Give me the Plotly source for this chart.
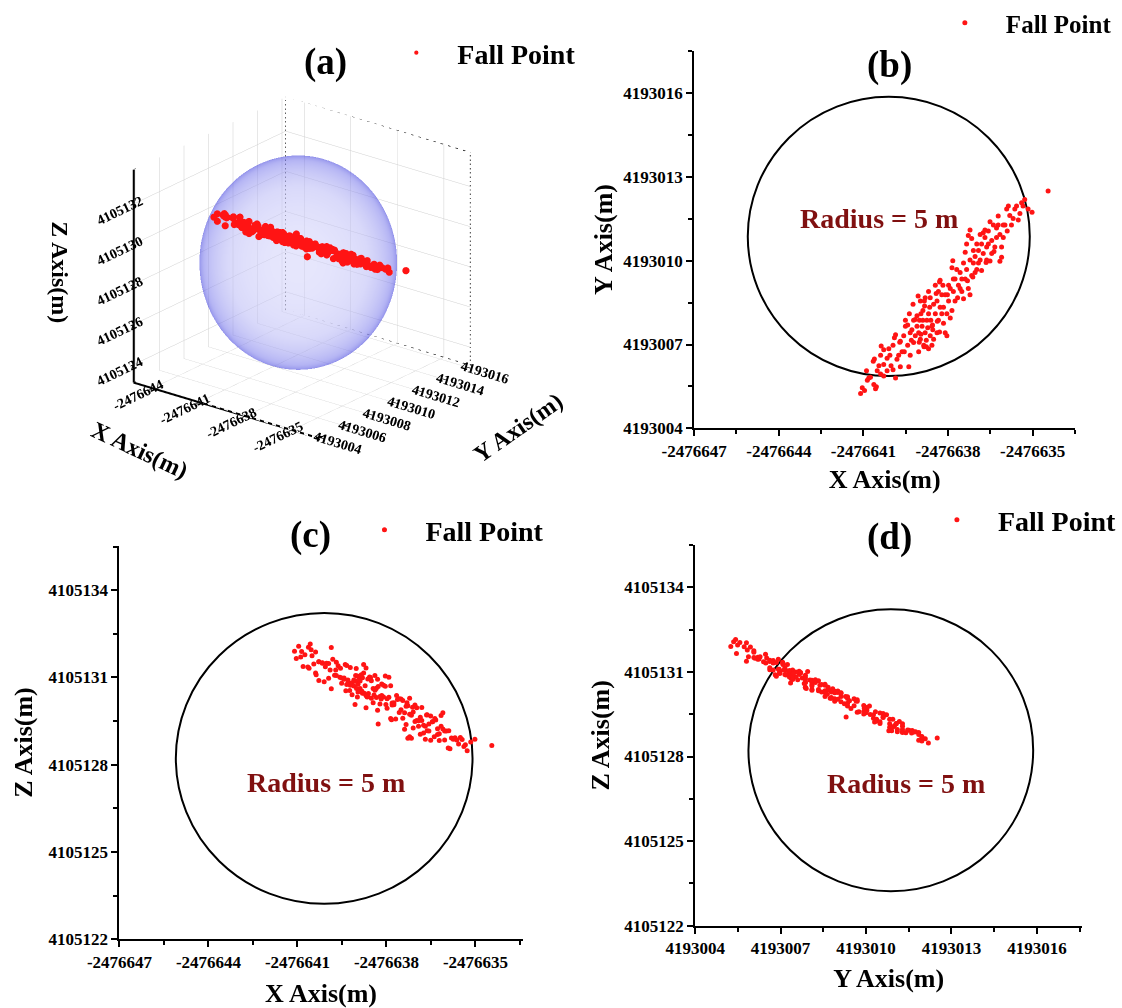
import numpy as np
import plotly.graph_objects as go

# ---------------- data ----------------
fall_x = [
    -2476641.10, -2476641.04, -2476640.96, -2476640.57, -2476640.54, -2476640.63, -2476640.81, -2476640.51, -2476640.45, -2476640.39,
    -2476640.28, -2476640.61, -2476640.28, -2476640.16, -2476640.02, -2476639.86, -2476639.95, -2476640.06, -2476639.95, -2476639.90,
    -2476639.69, -2476639.63, -2476639.75, -2476639.57, -2476639.51, -2476639.39, -2476639.34, -2476639.43, -2476639.22, -2476639.28,
    -2476639.51, -2476639.16, -2476640.75, -2476640.16, -2476639.81, -2476639.04, -2476638.98, -2476638.92, -2476638.86, -2476638.81,
    -2476638.75, -2476638.69, -2476638.63, -2476638.57, -2476638.51, -2476638.45, -2476639.16, -2476639.10, -2476639.01, -2476638.89,
    -2476638.84, -2476638.69, -2476638.63, -2476638.51, -2476638.39, -2476638.34, -2476638.28, -2476638.22, -2476638.16, -2476638.10,
    -2476638.04, -2476637.98, -2476637.92, -2476638.30, -2476638.45, -2476638.69, -2476638.81, -2476638.98, -2476639.10, -2476638.96,
    -2476638.77, -2476638.61, -2476638.54, -2476639.04, -2476638.89, -2476638.72, -2476639.22, -2476639.34, -2476638.39, -2476638.16,
    -2476638.34, -2476638.57, -2476638.04, -2476637.86, -2476637.81, -2476637.75, -2476637.69, -2476637.63, -2476637.57, -2476637.51,
    -2476637.39, -2476637.34, -2476637.28, -2476637.22, -2476637.16, -2476637.10, -2476637.04, -2476636.98, -2476636.92, -2476636.86,
    -2476636.81, -2476636.75, -2476636.69, -2476636.63, -2476636.57, -2476636.51, -2476636.45, -2476636.39, -2476636.34, -2476636.28,
    -2476636.22, -2476636.16, -2476636.10, -2476636.04, -2476635.98, -2476638.28, -2476637.86, -2476637.83, -2476637.39, -2476637.34,
    -2476637.28, -2476637.22, -2476637.16, -2476636.75, -2476636.69, -2476636.28, -2476635.92, -2476635.69, -2476635.63, -2476635.51,
    -2476635.39, -2476635.28, -2476635.16, -2476635.02, -2476635.86, -2476635.57, -2476636.22, -2476636.51, -2476634.45, -2476637.81,
    -2476637.98, -2476638.10, -2476637.75, -2476637.57, -2476637.45, -2476637.04, -2476636.92, -2476636.63, -2476636.45, -2476636.98,
    -2476636.86, -2476636.57, -2476636.16, -2476636.04, -2476635.81, -2476637.10, -2476637.22, -2476637.51, -2476637.92, -2476638.22,
    -2476639.69, -2476639.86, -2476640.28, -2476640.86, -2476640.39, -2476639.02, -2476638.85, -2476638.55, -2476638.38, -2476638.83,
    -2476639.06, -2476639.24, -2476639.37, -2476639.43, -2476639.30, -2476639.55, -2476639.71, -2476640.10, -2476640.37, -2476640.65,
    -2476640.89, -2476638.30, -2476638.18, -2476638.02, -2476637.66, -2476637.45, -2476637.31, -2476637.12, -2476636.81, -2476636.65,
    -2476636.37, -2476636.10, -2476635.90, -2476635.75, -2476635.45, -2476635.34, -2476638.65, -2476638.42, -2476638.96, -2476638.77,
]
fall_y = [
    4193005.25, 4193005.45, 4193005.35, 4193005.42, 4193005.49, 4193005.57, 4193005.80, 4193006.06, 4193006.24, 4193005.94,
    4193005.87, 4193006.48, 4193006.81, 4193006.51, 4193006.24, 4193005.80, 4193006.10, 4193006.62, 4193006.97, 4193007.24,
    4193006.20, 4193006.74, 4193006.62, 4193007.31, 4193007.65, 4193006.20, 4193006.62, 4193006.97, 4193007.07, 4193007.53,
    4193007.87, 4193007.31, 4193005.83, 4193006.06, 4193006.47, 4193006.74, 4193007.19, 4193007.65, 4193006.97, 4193007.42,
    4193007.87, 4193006.85, 4193007.31, 4193007.65, 4193007.19, 4193008.10, 4193007.90, 4193008.03, 4193007.87, 4193008.22,
    4193008.56, 4193008.10, 4193008.67, 4193008.44, 4193007.42, 4193007.87, 4193008.33, 4193008.78, 4193007.76, 4193007.42,
    4193008.10, 4193008.56, 4193009.01, 4193009.24, 4193009.12, 4193008.90, 4193008.67, 4193008.56, 4193007.65, 4193007.37,
    4193007.15, 4193007.87, 4193007.53, 4193007.42, 4193007.87, 4193007.60, 4193007.87, 4193007.42, 4193008.56, 4193008.33,
    4193008.90, 4193006.97, 4193007.31, 4193008.22, 4193008.90, 4193009.35, 4193009.69, 4193009.12, 4193009.58, 4193008.90,
    4193009.35, 4193009.69, 4193009.01, 4193008.78, 4193009.47, 4193009.92, 4193010.15, 4193009.69, 4193010.37, 4193010.03,
    4193010.60, 4193010.26, 4193010.83, 4193010.49, 4193011.06, 4193009.99, 4193010.72, 4193011.28, 4193010.49, 4193010.83,
    4193011.28, 4193009.98, 4193010.12, 4193010.83, 4193011.28, 4193009.30, 4193009.75, 4193010.00, 4193010.30, 4193010.60,
    4193010.90, 4193011.10, 4193010.80, 4193011.00, 4193011.10, 4193011.17, 4193011.85, 4193011.51, 4193011.85, 4193011.46,
    4193012.08, 4193012.19, 4193011.85, 4193011.74, 4193011.96, 4193011.96, 4193011.60, 4193011.40, 4193012.50, 4193009.35,
    4193009.12, 4193008.78, 4193008.56, 4193009.01, 4193009.92, 4193009.58, 4193009.92, 4193010.03, 4193010.26, 4193010.60,
    4193010.94, 4193010.60, 4193010.94, 4193011.28, 4193011.62, 4193010.37, 4193010.03, 4193009.35, 4193007.95, 4193008.10,
    4193007.12, 4193007.35, 4193006.28, 4193005.72, 4193006.62, 4193007.08, 4193006.92, 4193007.70, 4193007.83, 4193008.38,
    4193008.74, 4193008.44, 4193008.10, 4193007.70, 4193007.15, 4193006.74, 4193007.08, 4193006.85, 4193006.95, 4193006.40,
    4193006.06, 4193007.45, 4193009.12, 4193008.78, 4193008.67, 4193008.64, 4193009.28, 4193009.42, 4193009.65, 4193009.94,
    4193010.33, 4193010.49, 4193011.06, 4193011.28, 4193011.69, 4193011.96, 4193008.33, 4193008.83, 4193008.10, 4193006.92,
]
fall_z = [
    4105131.90, 4105131.65, 4105132.07, 4105132.15, 4105131.95, 4105132.04, 4105131.38, 4105131.75, 4105131.46, 4105131.88,
    4105131.54, 4105131.32, 4105130.90, 4105131.49, 4105131.49, 4105132.03, 4105131.48, 4105131.37, 4105130.97, 4105131.26,
    4105131.52, 4105131.40, 4105131.08, 4105131.01, 4105130.98, 4105131.45, 4105131.41, 4105130.94, 4105131.34, 4105130.82,
    4105130.80, 4105130.82, 4105131.78, 4105131.51, 4105131.63, 4105131.07, 4105131.05, 4105130.97, 4105131.04, 4105130.99,
    4105130.46, 4105131.33, 4105130.95, 4105131.02, 4105130.89, 4105130.62, 4105130.41, 4105130.71, 4105130.62, 4105130.62,
    4105130.53, 4105130.38, 4105130.38, 4105130.29, 4105131.07, 4105130.63, 4105130.69, 4105130.09, 4105130.78, 4105130.73,
    4105130.70, 4105130.27, 4105130.32, 4105129.87, 4105130.13, 4105129.96, 4105130.46, 4105130.33, 4105130.91, 4105130.77,
    4105131.15, 4105130.45, 4105131.00, 4105130.87, 4105130.88, 4105130.72, 4105130.73, 4105130.76, 4105130.56, 4105130.38,
    4105130.31, 4105130.97, 4105131.05, 4105130.72, 4105130.05, 4105130.06, 4105129.57, 4105130.24, 4105129.80, 4105130.26,
    4105129.79, 4105130.01, 4105130.03, 4105130.29, 4105129.70, 4105129.81, 4105129.49, 4105129.96, 4105129.32, 4105129.63,
    4105129.52, 4105129.36, 4105129.32, 4105129.17, 4105129.16, 4105129.68, 4105129.48, 4105128.96, 4105129.54, 4105129.04,
    4105129.07, 4105129.69, 4105129.79, 4105129.16, 4105129.16, 4105129.40, 4105129.59, 4105129.55, 4105129.22, 4105129.38,
    4105128.91, 4105128.96, 4105128.91, 4105129.09, 4105128.88, 4105129.24, 4105128.58, 4105128.93, 4105128.85, 4105128.94,
    4105128.63, 4105128.48, 4105128.78, 4105128.88, 4105128.55, 4105128.71, 4105128.83, 4105128.84, 4105128.66, 4105130.12,
    4105129.94, 4105130.33, 4105130.13, 4105130.27, 4105129.60, 4105130.05, 4105129.51, 4105129.72, 4105129.48, 4105129.52,
    4105129.05, 4105129.40, 4105129.32, 4105128.85, 4105128.92, 4105129.26, 4105129.74, 4105129.89, 4105131.01, 4105130.35,
    4105131.07, 4105130.61, 4105131.54, 4105131.89, 4105131.15, 4105131.31, 4105131.09, 4105130.96, 4105130.59, 4105130.53,
    4105130.07, 4105130.55, 4105130.54, 4105130.98, 4105130.91, 4105131.32, 4105131.26, 4105130.85, 4105131.09, 4105131.36,
    4105131.70, 4105130.94, 4105130.26, 4105130.07, 4105130.38, 4105130.21, 4105130.13, 4105129.98, 4105129.97, 4105129.71,
    4105129.59, 4105129.23, 4105129.17, 4105128.88, 4105128.87, 4105128.69, 4105130.33, 4105130.40, 4105130.50, 4105131.45,
]

center_x = -2476640.10
center_y = 4193010.87
center_z = 4105128.22
radius_m = 5.0

x_ticks_2d = [-2476647, -2476644, -2476641, -2476638, -2476635]
y_ticks_2d = [4193004, 4193007, 4193010, 4193013, 4193016]
z_ticks_2d = [4105122, 4105125, 4105128, 4105131, 4105134]

x_ticks_3d = [-2476644, -2476641, -2476638, -2476635]
y_ticks_3d = [4193004, 4193006, 4193008, 4193010, 4193012, 4193014, 4193016]
z_ticks_3d = [4105124, 4105126, 4105128, 4105130, 4105132]

x_range_3d = [-2476645.2, -2476633.3]
y_range_3d = [4193003.9, 4193016.3]
z_range_3d = [4105123.1, 4105133.7]

legend_label = "Fall Point"
radius_label = "Radius = 5 m"

# ---------------- styling ----------------
F = "Liberation Serif"
W, H = 1122, 1008
RED = "#ff1414"
DARKRED = "#801010"


def fx(p):
    return p / W


def fy(p):
    return 1 - p / H


fig = go.Figure()

# ---------------- (a) 3D ----------------
X_REF, Y_REF, Z_REF = -2476640.0, 4193010.0, 4105128.0
x3 = [v - X_REF for v in fall_x]
y3 = [v - Y_REF for v in fall_y]
z3 = [v - Z_REF for v in fall_z]

aspect = dict(x=0.88, y=0.915, z=0.86)
eye = np.array([1.825, -2.306, 1.205])

# translucent sphere: only the half facing away from the camera, so the points stay unshaded
k = np.array([aspect["x"] / (x_range_3d[1] - x_range_3d[0]),
              aspect["y"] / (y_range_3d[1] - y_range_3d[0]),
              aspect["z"] / (z_range_3d[1] - z_range_3d[0])])
ev = eye / np.linalg.norm(eye)
ev = ev / k
ev = ev / np.linalg.norm(ev)
a_vec = np.cross([0.0, 0.0, 1.0], ev)
a_vec /= np.linalg.norm(a_vec)
b_vec = np.cross(ev, a_vec)
t = np.linspace(0, np.pi / 2, 40)
p = np.linspace(0, 2 * np.pi, 121)
T, P = np.meshgrid(t, p)
dirs = [-ev[i] * np.cos(T) + np.sin(T) * (np.cos(P) * a_vec[i] + np.sin(P) * b_vec[i]) for i in range(3)]
fig.add_trace(go.Surface(
    x=center_x - X_REF + radius_m * dirs[0],
    y=center_y - Y_REF + radius_m * dirs[1],
    z=center_z - Z_REF + radius_m * dirs[2],
    surfacecolor=np.cos(T), cmin=0, cmax=1,
    colorscale=[[0, "rgb(40,40,215)"], [0.3, "rgb(120,120,235)"], [0.7, "rgb(185,185,245)"], [1, "rgb(210,210,250)"]],
    showscale=False, opacity=0.55,
    lighting=dict(ambient=1, diffuse=0, specular=0, fresnel=0, roughness=1),
    hoverinfo="skip", showlegend=False, scene="scene",
))

fig.add_trace(go.Scatter3d(
    x=x3, y=y3, z=z3, mode="markers", name=legend_label,
    marker=dict(size=4.2, color=RED, line=dict(width=0)),
    legend="legend", scene="scene",
))

# box edges
xa = [x_range_3d[0] - X_REF, x_range_3d[1] - X_REF]
ya = [y_range_3d[0] - Y_REF, y_range_3d[1] - Y_REF]
za = [z_range_3d[0] - Z_REF, z_range_3d[1] - Z_REF]
dashed = [
    ([xa[0], xa[0], xa[1]], [ya[0], ya[1], ya[1]], [za[1], za[1], za[1]]),
    ([xa[0], xa[0]], [ya[1], ya[1]], [za[0], za[1]]),
    ([xa[0], xa[0], xa[1]], [ya[0], ya[1], ya[1]], [za[0], za[0], za[0]]),
    ([xa[1], xa[1]], [ya[1], ya[1]], [za[0], za[1]]),
]
for lx, ly, lz in dashed:
    fig.add_trace(go.Scatter3d(x=lx, y=ly, z=lz, mode="lines",
                               line=dict(color="black", width=1.5, dash="dash"),
                               hoverinfo="skip", showlegend=False, scene="scene"))
fig.add_trace(go.Scatter3d(x=[xa[0], xa[0], xa[1], xa[1]], y=[ya[0], ya[0], ya[0], ya[1]],
                           z=[za[1], za[0], za[0], za[0]], mode="lines",
                           line=dict(color="black", width=4),
                           hoverinfo="skip", showlegend=False, scene="scene"))

axis3 = dict(showgrid=True, gridcolor="#cfcfcf", gridwidth=1, showbackground=True,
             backgroundcolor="white", zeroline=False, showline=False, ticks="outside",
             ticklen=5, tickwidth=2, tickcolor="black", showspikes=False,
             tickfont=dict(family=F, size=13, color="black", weight=700), title=dict(text=""))

fig.update_layout(scene=dict(
    domain=dict(x=[fx(43), fx(563)], y=[fy(535), 1.0]),
    xaxis=dict(axis3, range=xa, tickvals=[t - X_REF for t in x_ticks_3d], ticktext=[str(t) for t in x_ticks_3d]),
    yaxis=dict(axis3, range=ya, tickvals=[t - Y_REF for t in y_ticks_3d], ticktext=[str(t) for t in y_ticks_3d]),
    zaxis=dict(axis3, range=za, tickvals=[t - Z_REF for t in z_ticks_3d], ticktext=[str(t) for t in z_ticks_3d]),
    aspectmode="manual", aspectratio=aspect,
    camera=dict(eye=dict(x=eye[0], y=eye[1], z=eye[2]), center=dict(x=0, y=0, z=0),
                projection=dict(type="orthographic")),
    bgcolor="rgba(0,0,0,0)",
))

# ---------------- 2D panels ----------------
panels = [
    ("x", "y", fall_x, fall_y, center_x, center_y, "legend2"),
    ("x2", "y2", fall_x, fall_z, center_x, center_z, "legend3"),
    ("x3", "y3", fall_y, fall_z, center_y, center_z, "legend4"),
]
for xr, yr, xs, ys, cx, cy, lg in panels:
    fig.add_trace(go.Scatter(x=xs, y=ys, xaxis=xr, yaxis=yr, mode="markers", name=legend_label,
                             marker=dict(size=5, color=RED, line=dict(width=0)), legend=lg))
    fig.add_shape(type="circle", xref=xr, yref=yr, x0=cx - radius_m, x1=cx + radius_m,
                  y0=cy - radius_m, y1=cy + radius_m, line=dict(color="black", width=2), layer="below")

tickfont = dict(family=F, size=17, color="black", weight=700)
titlefont = dict(family=F, size=26, color="black", weight=700)


def ax2(domain, anchor, rng, ticks, title, standoff):
    return dict(domain=domain, anchor=anchor, range=rng, tickvals=ticks, ticktext=[str(t) for t in ticks],
                ticks="outside", ticklen=6, tickwidth=2, tickcolor="black", showline=True, linewidth=2,
                linecolor="black", showgrid=False, zeroline=False, tickfont=tickfont, automargin=False,
                minor=dict(ticks="outside", ticklen=4, tickwidth=1.5, tickcolor="black",
                           tickmode="linear", tick0=ticks[0], dtick=1.5),
                title=dict(text=title, font=titlefont, standoff=standoff))


fig.update_layout(
    xaxis=ax2([fx(697.3), fx(1080)], "y", [x_ticks_2d[0], -2476633.49], x_ticks_2d, "X Axis(m)", 10),
    yaxis=ax2([fy(428.3), fy(50.7)], "x", [y_ticks_2d[0], 4193017.52], y_ticks_2d, "Y Axis(m)", 3),
    xaxis2=ax2([fx(120), fx(525)], "y2", [x_ticks_2d[0], -2476633.41], x_ticks_2d, "X Axis(m)", 14),
    yaxis2=ax2([fy(939.3), fy(545.7)], "x2", [z_ticks_2d[0], 4105135.53], z_ticks_2d, "Z Axis(m)", 8),
    xaxis3=ax2([fx(698.3), fx(1087)], "y3", [y_ticks_2d[0], 4193017.59], y_ticks_2d, "Y Axis(m)", 12),
    yaxis3=ax2([fy(925.7), fy(545)], "x3", [z_ticks_2d[0], 4105135.5], z_ticks_2d, "Z Axis(m)", 7),
)


def leg(xp, yp, size):
    return dict(x=fx(xp), y=fy(yp), xanchor="left", yanchor="middle",
                font=dict(family=F, size=size, color="black", weight=700),
                bgcolor="rgba(0,0,0,0)", borderwidth=0, itemsizing="trace", itemwidth=72)


fig.update_layout(legend=leg(377, 53, 28), legend2=leg(928, 23, 25),
                  legend3=leg(345, 530, 28), legend4=leg(920, 520, 28))

# annotations
ann = []
for txt, xp, yp in [("(a)", 327, 62), ("(b)", 893, 65), ("(c)", 312, 535), ("(d)", 893, 537)]:
    ann.append(dict(text=txt, x=fx(xp), y=fy(yp), xref="paper", yref="paper", showarrow=False,
                    xanchor="center", yanchor="middle", font=dict(family=F, size=37, color="black", weight=700)))
for txt, xp, yp, ang in [("Z Axis(m)", 60, 272, 90), ("X Axis(m)", 140, 450, 25), ("Y Axis(m)", 520, 428, -35)]:
    ann.append(dict(text=txt, x=fx(xp), y=fy(yp), xref="paper", yref="paper", showarrow=False,
                    textangle=ang, xanchor="center", yanchor="middle",
                    font=dict(family=F, size=24, color="black", weight=700)))
for xr, yr, xv, yv in [("x", "y", -2476640.45, 4193011.52), ("x2", "y2", -2476640.05, 4105127.38),
                       ("x3", "y3", 4193011.40, 4105127.05)]:
    ann.append(dict(text=radius_label, x=xv, y=yv, xref=xr, yref=yr, showarrow=False,
                    font=dict(family=F, size=28, color=DARKRED, weight=700)))

fig.update_layout(annotations=ann, width=W, height=H, margin=dict(l=0, r=0, t=0, b=0),
                  paper_bgcolor="white", plot_bgcolor="white", showlegend=True)

fig.write_html("out.html")
